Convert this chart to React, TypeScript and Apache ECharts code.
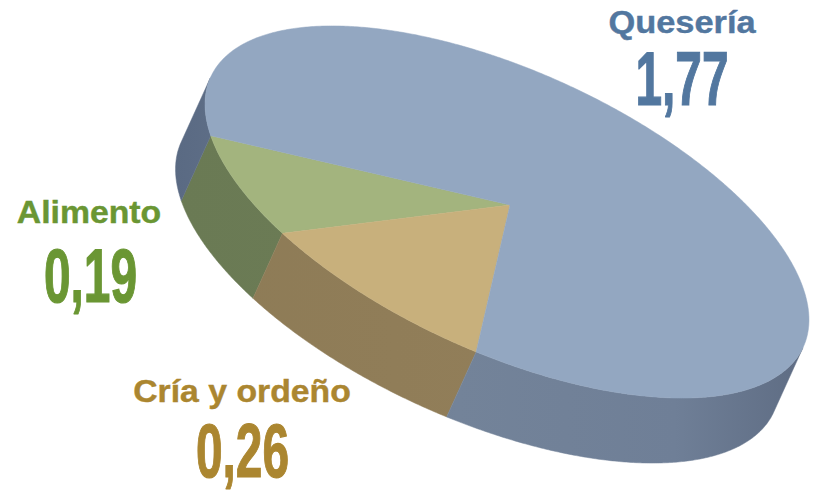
import React, { useEffect, useRef } from "react";
import * as echarts from "echarts";

const names = ["Alimento", "Cría y ordeño", "Quesería"];
const values = [0.19, 0.26, 1.77];

const topColors = ["#a3b47e", "#c8b07c", "#93a7c1"];
const wallStops = [
  [[0, "#6a7a54"], [1, "#6f7f58"]],
  [[0, "#8d7b56"], [0.7, "#937f5a"], [1, "#a08c64"]],
  [[0, "#5a6a83"], [0.45, "#738399"], [0.8, "#6f7f97"], [1, "#5f6d84"]],
];
const textColors = ["#6a9633", "#ab8630", "#52779f"];

const CX = 507, CY = 212, A = 325.6, B = 140.7, ROT = (24.5 * Math.PI) / 180;
const APEX = [510, 205];
const OFFSET = [-29.5, 65];
const START_DEG = 157.7;
const FRONT_DEG = 90;

const nameLayout = [
  { x: 89, y: 212, sx: 1.09 },
  { x: 242, y: 391, sx: 1.09 },
  { x: 682, y: 22, sx: 1.11 },
];
const numLayout = [
  { x: 90.5, y: 276 },
  { x: 242.5, y: 451 },
  { x: 682, y: 79 },
];

const total = values.reduce((a, b) => a + b, 0);

function pt(deg: number): number[] {
  const t = (deg * Math.PI) / 180;
  const u = A * Math.cos(t), v = B * Math.sin(t);
  return [CX + u * Math.cos(ROT) - v * Math.sin(ROT), CY + u * Math.sin(ROT) + v * Math.cos(ROT)];
}

function range(i: number): number[] {
  let s = START_DEG;
  for (let k = 0; k < i; k++) s -= (values[k] / total) * 360;
  return [s, s - (values[i] / total) * 360];
}

function arc(from: number, to: number): number[] {
  const list: number[] = [];
  const n = Math.max(2, Math.ceil(Math.abs(to - from) / 0.5));
  for (let k = 0; k <= n; k++) list.push(from + ((to - from) * k) / n);
  return list;
}

export default function App() {
  const ref = useRef<HTMLDivElement>(null);
  useEffect(() => {
    const chart = echarts.init(ref.current!, undefined, { renderer: "svg" });

    const renderTop = (_: any, api: any) => {
      const i = api.value(0);
      const [s, e] = range(i);
      const points = [APEX, ...arc(s, e).map(pt)];
      return {
        type: "polygon",
        shape: { points },
        style: { fill: topColors[i], stroke: topColors[i], lineWidth: 0.5 },
      };
    };

    const renderWall = (_: any, api: any) => {
      const i = api.value(0);
      const [s, e] = range(i);
      const runs: number[][] = [];
      let cur: number[] = [];
      arc(s, e).forEach((d) => {
        if (Math.cos(((d - FRONT_DEG) * Math.PI) / 180) >= -1e-6) cur.push(d);
        else if (cur.length) {
          runs.push(cur);
          cur = [];
        }
      });
      if (cur.length) runs.push(cur);
      const fill = new echarts.graphic.LinearGradient(
        175, 0, 800, 0,
        wallStops[i].map((st: any) => ({ offset: st[0], color: st[1] })),
        true
      );
      return {
        type: "group",
        children: runs.map((run) => {
          const upper = run.map(pt);
          const lower = upper.map((p) => [p[0] + OFFSET[0], p[1] + OFFSET[1]]).reverse();
          return {
            type: "polygon",
            shape: { points: [...upper, ...lower] },
            style: { fill, stroke: fill, lineWidth: 0.5 },
          };
        }),
      };
    };

    const seriesData = values.map((v, i) => [i, v]);
    const nameTexts = names.map((n, i) => ({
      type: "text",
      x: nameLayout[i].x,
      y: nameLayout[i].y,
      scaleX: nameLayout[i].sx,
      style: {
        text: n,
        fill: textColors[i],
        stroke: textColors[i],
        lineWidth: 0.4,
        font: 'bold 31px "Liberation Sans"',
        textAlign: "center",
        textVerticalAlign: "middle",
      },
    }));
    const numTexts = values.map((v, i) => ({
      type: "text",
      x: numLayout[i].x,
      y: numLayout[i].y,
      scaleX: 0.63,
      style: {
        text: v.toFixed(2).replace(".", ","),
        fill: textColors[i],
        stroke: textColors[i],
        lineWidth: 1.2,
        font: 'bold 76px "Liberation Sans"',
        textAlign: "center",
        textVerticalAlign: "middle",
      },
    }));

    chart.setOption({
      animation: false,
      backgroundColor: "#ffffff",
      series: [
        { type: "custom", coordinateSystem: "none", z: 1, silent: true, data: seriesData, renderItem: renderWall },
        { type: "custom", coordinateSystem: "none", z: 2, silent: true, data: seriesData, renderItem: renderTop },
      ],
      graphic: [...nameTexts, ...numTexts],
    });
    return () => chart.dispose();
  }, []);
  return <div ref={ref} style={{ position: "fixed", left: 0, top: 0, width: 819, height: 495 }} />;
}
